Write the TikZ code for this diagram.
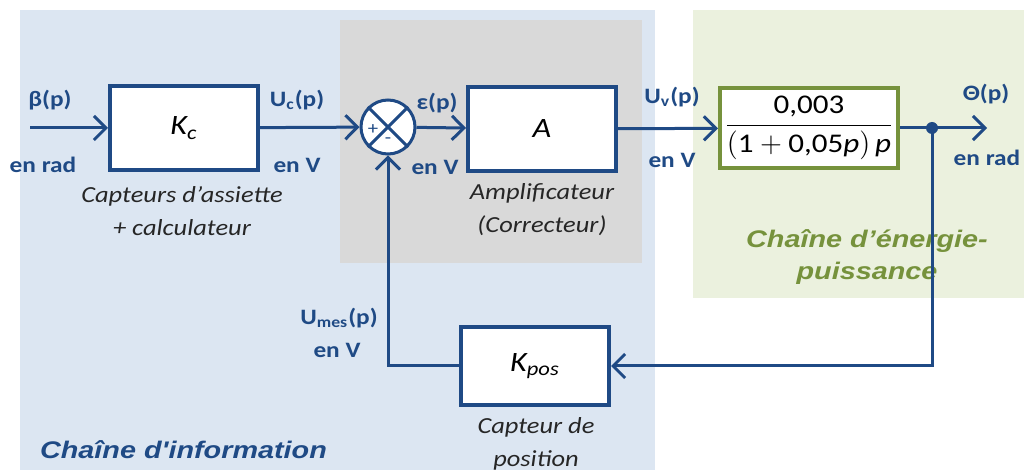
\documentclass[tikz,border=0pt]{standalone}
\usepackage{amsmath}
\usepackage{fontspec}
\setmainfont{Carlito}[FakeStretch=1.15]
\newfontfamily\titlefont{Liberation Sans}[FakeStretch=1.2]
\usepackage{xcolor}
\usetikzlibrary{arrows.meta,positioning,calc}
\definecolor{infoblue}{HTML}{DCE6F2}
\definecolor{corrgray}{HTML}{D9D9D9}
\definecolor{engbg}{HTML}{EBF1DE}
\definecolor{linkblue}{HTML}{1F4A85}
\definecolor{enggreen}{HTML}{76923C}

\begin{document}
\begin{tikzpicture}[x=0.5pt, y=-0.5pt,
  blk/.style={draw=linkblue, line width=2pt, fill=white, minimum width=74pt, minimum height=42pt, font=\fontsize{14}{16}\selectfont\itshape},
  sumpt/.style={draw=linkblue, line width=1.5pt, fill=white, circle, minimum size=27pt, inner sep=0pt},
  sig/.style={text=linkblue, font=\fontsize{11}{13}\selectfont\bfseries, inner sep=1pt},
  blkcap/.style={text=black!85, font=\fontsize{11.5}{16.5}\selectfont\itshape, align=center},
  ttl/.style={font=\fontsize{12}{16}\selectfont\titlefont\bfseries\itshape, align=center},
  arr/.style={draw=linkblue, line width=1.5pt, -{Straight Barb[length=6pt,width=12pt]}}]
\useasboundingbox (0,0) rectangle (1024,470);
% zones
\fill[infoblue] (20,10) rectangle (655,470);
\fill[corrgray] (340,20) rectangle (642,263);
\fill[engbg] (693,10) rectangle (1024,298);
\node[ttl, text=linkblue, anchor=west] (infottl) at (33,450) {Chaîne d'information};
\node[ttl, text=enggreen] (engttl) at (867,257) {Chaîne d’énergie-\\puissance};

% blocks
\node[blk] (kc) at (184,128) {K\textsubscript{c}};
\node[sumpt] (sum) at (388,127) {};
\node[blk] (amp) at (542,129) {A};
\node[blk, draw=enggreen, minimum width=89pt, minimum height=40pt, inner sep=1pt, font=\fontsize{13.5}{15}\selectfont] (tf) at (809,128)
  {$\dfrac{\text{0,003}}{\left(\text{1}+\text{0,05\itshape p}\right)\text{\itshape p}}$};
\node[blk, minimum height=39pt] (kpos) at (535,366) {K\textsubscript{pos}};
\draw[linkblue, line width=1.5pt] (sum.north west) -- (sum.south east) (sum.north east) -- (sum.south west);
\node[text=linkblue, font=\fontsize{9}{9}\selectfont, inner sep=0pt] (plus) at ($(sum)+(-15,3)$) {+};
\node[text=linkblue, font=\fontsize{9}{9}\selectfont, inner sep=0pt] (minus) at ($(sum)+(0,14)$) {-};
\coordinate (in) at (30,128);
\coordinate (out) at (987,128);
\coordinate (br) at (932,128);

% links
\draw[arr] (in) -- (kc);
\draw[arr] (kc) -- (sum);
\draw[arr] (sum) -- (amp);
\draw[arr] (amp) -- (tf);
\draw[arr] (tf) -- (out);
\draw[arr] (br) |- (kpos);
\draw[arr] (kpos) -| (sum);
\fill[linkblue] (br) circle (3pt);

% signals
\node[sig] (beta) at (50,100) {β(p)};
\node[sig] (betau) at (43,165) {en rad};
\node[sig] (uc) at (297,100) {U\textsubscript{c}(p)};
\node[sig] (ucu) at (297,165) {en V};
\node[sig] (eps) at (437,103) {ε(p)};
\node[sig] (epsu) at (435,167) {en V};
\node[sig] (uv) at (672,97) {U\textsubscript{v}(p)};
\node[sig] (uvu) at (672,160) {en V};
\node[sig] (theta) at (986,94) {Θ(p)};
\node[sig] (thetau) at (987,158) {en rad};
\node[sig] (umes) at (339,318) {U\textsubscript{mes}(p)};
\node[sig] (umesu) at (337,350) {en V};

% captions
\node[blkcap] (kccap) at (182,211) {Capteurs d'assiette\\+ calculateur};
\node[blkcap] (ampcap) at (542,210) {Amplificateur\\(Correcteur)};
\node[blkcap] (kposcap) at (536,444) {Capteur de\\position};
\end{tikzpicture}
\end{document}
